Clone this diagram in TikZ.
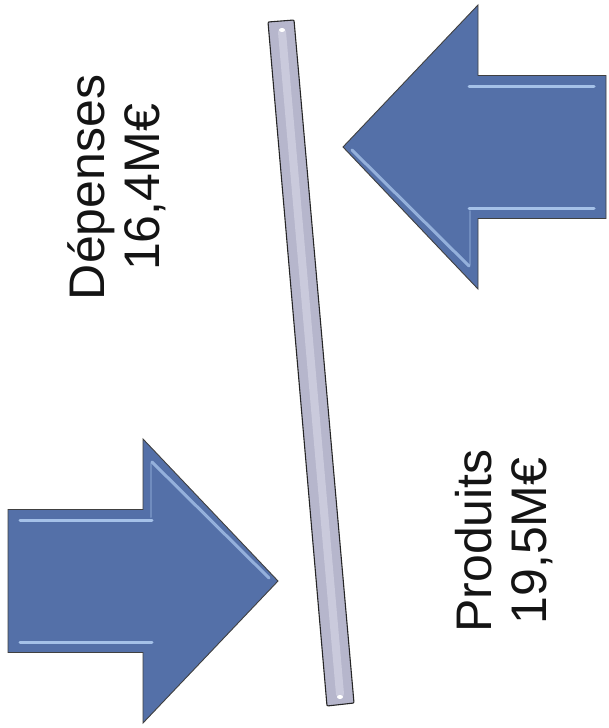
\documentclass[tikz,border=0pt]{standalone}
\usepackage{fontspec}
\setmainfont{Liberation Sans}
\usepackage{tikz}
\usetikzlibrary{positioning}
\definecolor{pfeilblau}{RGB}{84,112,168}
\definecolor{glanzblau}{RGB}{165,193,232}
\definecolor{balkengrau}{RGB}{182,182,204}
\definecolor{balkenhell}{RGB}{202,202,220}
\definecolor{textschwarz}{RGB}{20,20,20}

\begin{document}
\begin{tikzpicture}[x=1pt,y=-1pt]

\tikzset{pfeil/.style={fill=pfeilblau, draw=black!75, line width=0.9pt, line join=miter}}
\tikzset{glanz/.style={draw=glanzblau, line width=3pt, line cap=round}}
\tikzset{balken/.style={fill=balkengrau, draw=black!85, line width=1.1pt, rounded corners=1pt}}
\tikzset{beschriftung/.style={rotate=90, align=center, inner sep=0pt, text=textschwarz,
  font=\fontsize{50}{55}\selectfont}}

% Rahmen
\useasboundingbox[fill=white] (0,0) rectangle (608,728);

% Pfeile: Spitze bei (0,0), Kopf 135 lang, halbe Hoehe 142, Schaft halbe Hoehe 71.5
\def\pfeilform#1{%
  \draw[pfeil] (0,0) -- (-135,-142) -- (-135,-71.5) -- (-#1,-71.5)
    -- (-#1,71.5) -- (-135,71.5) -- (-135,142) -- cycle;
  \draw[glanz] (-#1+12,-61) -- (-126,-61);
  \draw[glanz] (-#1+12,61) -- (-126,61);
  \draw[glanz, draw opacity=0.8] (-126,-119) -- (-9,-3);
  \draw[glanz, draw opacity=0.35, line width=2pt] (-127,-118) -- (-127,-64);
}

% Produits -> nach rechts
\begin{scope}[shift={(278,581)}]
  \pfeilform{270}
\end{scope}
% Depenses <- nach links
\begin{scope}[shift={(343,147)}, rotate=180]
  \pfeilform{263}
\end{scope}

% Balken (Waage)
\coordinate (b1) at (268,22);
\coordinate (b2) at (294,20);
\coordinate (b3) at (354,703);
\coordinate (b4) at (327,706);
\draw[balken] (b1) -- (b2) -- (b3) -- (b4) -- cycle;
\draw[balkenhell, line width=8pt, line cap=round] (282,32) -- (340,694);
\foreach \p in {(282,30),(340,697)}
  \fill[white] \p ellipse (3pt and 2pt);

% Texte
\node[beschriftung] (depenses) at (116.5,187.5) {Dépenses\\16,4M€};
\node[beschriftung] (produits) at (504.5,541) {Produits\\19,5M€};

\end{tikzpicture}
\end{document}
